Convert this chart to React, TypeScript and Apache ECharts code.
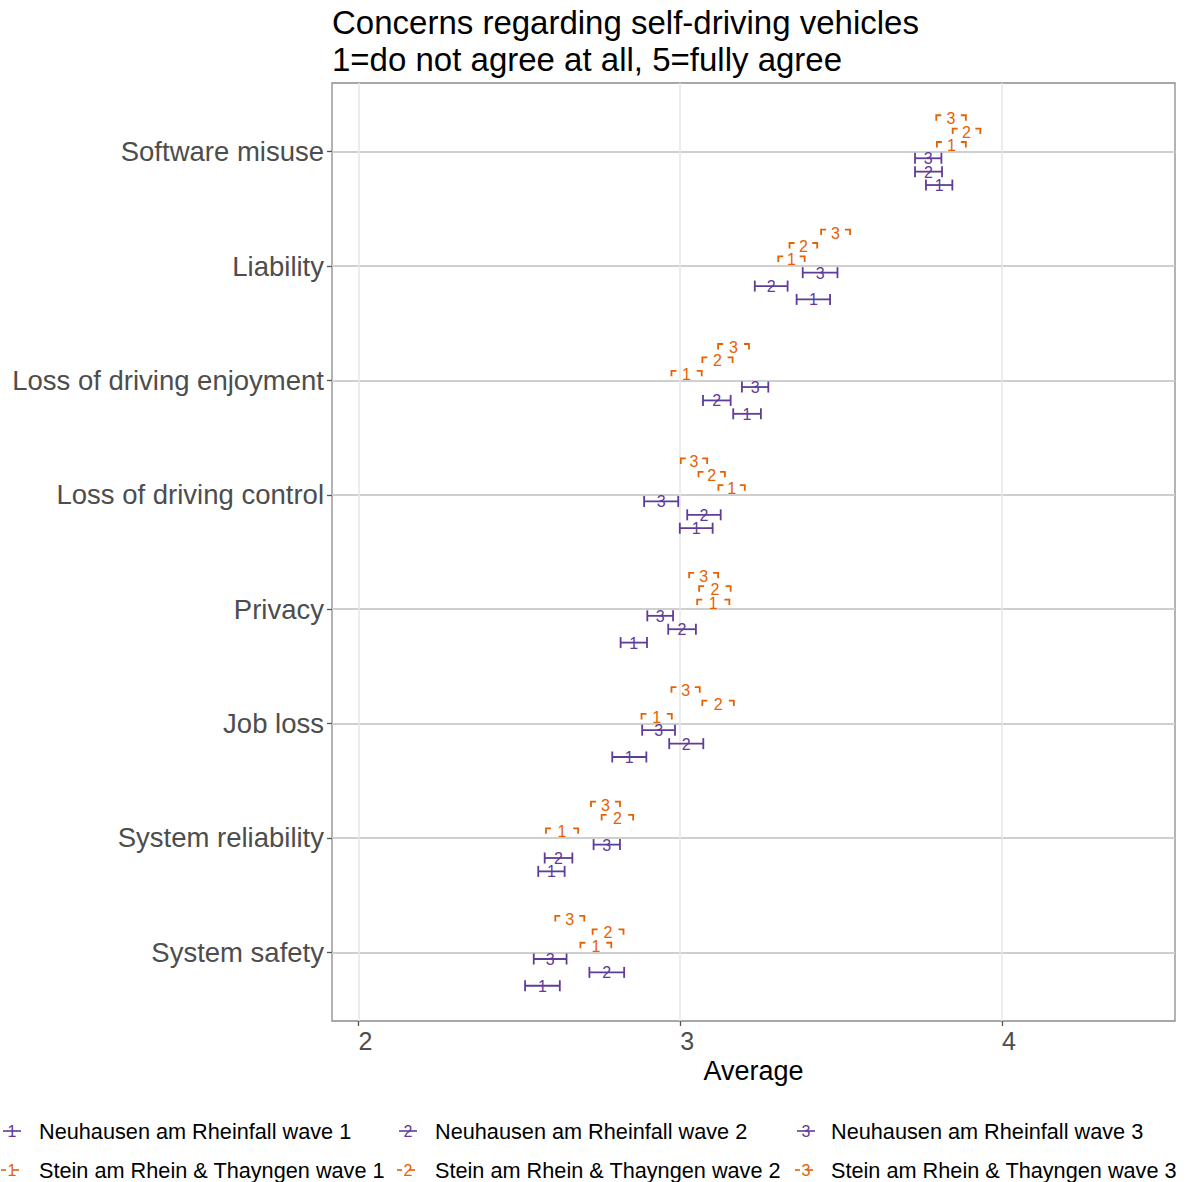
import React, { useEffect, useRef } from "react";
import * as echarts from "echarts";

// ---------- data ----------
const categories = [
  "Software misuse",
  "Liability",
  "Loss of driving enjoyment",
  "Loss of driving control",
  "Privacy",
  "Job loss",
  "System reliability",
  "System safety",
];

const neuhausenW1Mean = [3.805, 3.414, 3.208, 3.05, 2.856, 2.842, 2.6, 2.572];
const neuhausenW2Mean = [3.772, 3.283, 3.114, 3.074, 3.006, 3.019, 2.622, 2.772];
const neuhausenW3Mean = [3.771, 3.435, 3.233, 2.941, 2.938, 2.933, 2.772, 2.596];
const steinW1Mean = [3.843, 3.346, 3.02, 3.16, 3.103, 2.927, 2.633, 2.738];
const steinW2Mean = [3.89, 3.383, 3.116, 3.098, 3.108, 3.118, 2.805, 2.776];
const steinW3Mean = [3.842, 3.483, 3.166, 3.043, 3.073, 3.017, 2.768, 2.657];

const neuhausenW1Se = [0.041, 0.052, 0.043, 0.051, 0.041, 0.053, 0.041, 0.054];
const neuhausenW2Se = [0.042, 0.051, 0.043, 0.052, 0.043, 0.053, 0.043, 0.054];
const neuhausenW3Se = [0.041, 0.054, 0.041, 0.053, 0.04, 0.051, 0.041, 0.051];
const steinW1Se = [0.045, 0.041, 0.047, 0.041, 0.05, 0.047, 0.05, 0.048];
const steinW2Se = [0.043, 0.043, 0.047, 0.041, 0.049, 0.049, 0.049, 0.048];
const steinW3Se = [0.046, 0.045, 0.048, 0.041, 0.045, 0.044, 0.045, 0.045];

const xTicks = [2, 3, 4];
const titleText = "Concerns regarding self-driving vehicles\n1=do not agree at all, 5=fully agree";
const xAxisTitle = "Average";

// ---------- styling ----------
const PURPLE = "#5E3C99";
const ORANGE = "#E66101";
const FONT = "'Liberation Sans', Arial, sans-serif";
const DIGIT_SIZE = 16;

const groups = [
  { name: "Neuhausen am Rheinfall wave 1", means: neuhausenW1Mean, se: neuhausenW1Se, color: PURPLE, digit: "1", offset: -0.292, dashed: false, row: 0, col: 0 },
  { name: "Neuhausen am Rheinfall wave 2", means: neuhausenW2Mean, se: neuhausenW2Se, color: PURPLE, digit: "2", offset: -0.175, dashed: false, row: 0, col: 1 },
  { name: "Neuhausen am Rheinfall wave 3", means: neuhausenW3Mean, se: neuhausenW3Se, color: PURPLE, digit: "3", offset: -0.058, dashed: false, row: 0, col: 2 },
  { name: "Stein am Rhein & Thayngen wave 1", means: steinW1Mean, se: steinW1Se, color: ORANGE, digit: "1", offset: 0.058, dashed: true, row: 1, col: 0 },
  { name: "Stein am Rhein & Thayngen wave 2", means: steinW2Mean, se: steinW2Se, color: ORANGE, digit: "2", offset: 0.175, dashed: true, row: 1, col: 1 },
  { name: "Stein am Rhein & Thayngen wave 3", means: steinW3Mean, se: steinW3Se, color: ORANGE, digit: "3", offset: 0.292, dashed: true, row: 1, col: 2 },
];

const nCat = categories.length;
const catPos = (i: number) => nCat - i; // top category gets highest value

function makeRenderItem(g: any) {
  return (params: any, api: any) => {
    const m = api.value(0);
    const y = api.value(1) + g.offset;
    const se = api.value(2);
    const pL = api.coord([m - se, y]);
    const pR = api.coord([m + se, y]);
    const pC = api.coord([m, y]);
    const lw = 1.8;
    const children: any[] = [];
    if (!g.dashed) {
      children.push(
        { type: "line", shape: { x1: pL[0], y1: pL[1], x2: pR[0], y2: pR[1] }, style: { stroke: g.color, lineWidth: lw } },
        { type: "line", shape: { x1: pL[0], y1: pL[1] - 5.5, x2: pL[0], y2: pL[1] + 5.5 }, style: { stroke: g.color, lineWidth: lw } },
        { type: "line", shape: { x1: pR[0], y1: pR[1] - 5.5, x2: pR[0], y2: pR[1] + 5.5 }, style: { stroke: g.color, lineWidth: lw } }
      );
    } else {
      const yy = pL[1] - 3;
      children.push(
        { type: "polyline", shape: { points: [[pL[0] + 5, yy], [pL[0], yy], [pL[0], yy + 5.5]] }, style: { stroke: g.color, lineWidth: lw, fill: "none" } },
        { type: "polyline", shape: { points: [[pR[0] - 5, yy], [pR[0], yy], [pR[0], yy + 5.5]] }, style: { stroke: g.color, lineWidth: lw, fill: "none" } }
      );
    }
    children.push({
      type: "text",
      style: {
        text: g.digit,
        x: pC[0],
        y: pC[1] + 0.5,
        fill: g.color,
        fontSize: DIGIT_SIZE,
        fontFamily: FONT,
        align: "center",
        verticalAlign: "middle",
      },
    });
    return { type: "group", children };
  };
}

function buildLegend() {
  const keyX = [12, 408, 806];
  const textX = [39, 435, 831];
  const rowY = [1131, 1170];
  const els: any[] = [];
  groups.forEach((g) => {
    const kx = keyX[g.col];
    const ky = rowY[g.row];
    if (!g.dashed) {
      els.push({ type: "line", shape: { x1: kx - 9, y1: ky, x2: kx + 9, y2: ky }, style: { stroke: g.color, lineWidth: 1.6 } });
    } else {
      els.push({ type: "line", shape: { x1: kx - 11, y1: ky, x2: kx - 6, y2: ky }, style: { stroke: g.color, lineWidth: 1.6 } });
      els.push({ type: "line", shape: { x1: kx + 1, y1: ky, x2: kx + 7, y2: ky }, style: { stroke: g.color, lineWidth: 1.6 } });
    }
    els.push({
      type: "text",
      style: { text: g.digit, x: kx, y: ky + 0.5, fill: g.color, fontSize: DIGIT_SIZE, fontFamily: FONT, align: "center", verticalAlign: "middle" },
    });
    els.push({
      type: "text",
      style: { text: g.name, x: textX[g.col], y: ky, fill: "#000", fontSize: 21.7, fontFamily: FONT, align: "left", verticalAlign: "middle" },
    });
  });
  return els;
}

export default function App() {
  const ref = useRef<HTMLDivElement>(null);
  useEffect(() => {
    if (!ref.current) return;
    const chart = echarts.init(ref.current, undefined, { renderer: "svg" });
    const yVals = categories.map((_, i) => catPos(i));
    const option: any = {
      animation: false,
      backgroundColor: "#ffffff",
      textStyle: { fontFamily: FONT },
      title: {
        text: titleText,
        left: 332,
        top: 4,
        padding: 0,
        textStyle: { fontSize: 33, lineHeight: 37, fontWeight: "normal", color: "#000", fontFamily: FONT },
      },
      grid: {
        left: 332,
        right: 13,
        top: 83,
        bottom: 161,
        show: true,
        borderColor: "#8a8a8a",
        borderWidth: 1.3,
        backgroundColor: "transparent",
      },
      xAxis: {
        type: "value",
        min: 1.918,
        max: 4.538,
        name: xAxisTitle,
        nameLocation: "middle",
        nameGap: 34,
        nameTextStyle: { fontSize: 27, color: "#000", fontFamily: FONT },
        axisLine: { show: false },
        axisTick: { show: true, length: 5, customValues: xTicks, lineStyle: { color: "#555", width: 1.3 } },
        axisLabel: {
          customValues: xTicks,
          fontSize: 25,
          color: "#4d4d4d",
          margin: 7,
          align: "left",
          fontFamily: FONT,
        },
        splitLine: { show: true, lineStyle: { color: "#e6e6e6", width: 1.5 } },
      },
      yAxis: {
        type: "value",
        min: 0.4,
        max: nCat + 0.6,
        axisLine: { show: false },
        axisTick: { show: true, length: 5, customValues: yVals, lineStyle: { color: "#555", width: 1.3 } },
        axisLabel: {
          customValues: yVals,
          fontSize: 27.5,
          color: "#4d4d4d",
          margin: 8,
          fontFamily: FONT,
          formatter: (v: number) => categories[nCat - Math.round(v)] ?? "",
        },
        splitLine: { show: true, lineStyle: { color: "#cfcfcf", width: 2 } },
      },
      series: groups.map((g) => ({
        type: "custom",
        name: g.name,
        renderItem: makeRenderItem(g),
        encode: { x: 0, y: 1 },
        data: g.means.map((m, i) => [m, catPos(i), g.se[i]]),
        z: 5,
      })),
      graphic: buildLegend(),
    };
    chart.setOption(option);
    return () => chart.dispose();
  }, []);
  return (
    <div
      ref={ref}
      style={{ position: "absolute", left: 0, top: 0, width: 1188, height: 1182, background: "#fff" }}
    />
  );
}
